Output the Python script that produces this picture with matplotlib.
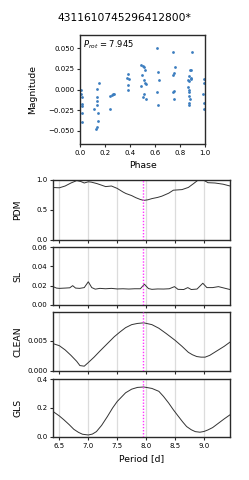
import matplotlib
matplotlib.use("Agg")
import matplotlib.pyplot as plt
import numpy as np

title = "4311610745296412800*"
p_rot = 7.945

phase = [0.005, 0.010, 0.012, 0.015, 0.013, 0.016, 0.018,
         0.112, 0.128, 0.139, 0.144, 0.144, 0.139, 0.133, 0.136, 0.149, 0.135,
         0.240, 0.243, 0.256, 0.264, 0.272,
         0.387, 0.379, 0.392, 0.387, 0.381,
         0.491, 0.501, 0.512, 0.520, 0.499, 0.509, 0.517, 0.525, 0.488, 0.512, 0.504, 0.531,
         0.619, 0.627, 0.629, 0.619, 0.627,
         0.741, 0.760, 0.749, 0.744, 0.752, 0.747, 0.752,
         0.899, 0.877, 0.885, 0.869, 0.864, 0.875, 0.885, 0.891, 0.861, 0.869, 0.875, 0.869, 0.880, 0.875, 0.872,
         0.992, 0.990, 0.987, 0.995, 0.992]
mag = [0.000, -0.005, -0.009, -0.017, -0.020, -0.028, -0.039,
       -0.0236, -0.048, -0.0455, -0.0386, -0.0285, -0.0142, -0.0089, 0.0008, 0.0077, -0.019,
       -0.0236, -0.0073, -0.0065, -0.0060, -0.0057,
       0.0190, 0.0134, 0.0122, 0.0057, 0.0000,
       0.0293, 0.0285, 0.0272, 0.0232, 0.0179, 0.0114, 0.0073, 0.0061, 0.0040, -0.0053, -0.0093, -0.0114,
       0.0504, 0.0215, 0.0110, -0.0029, -0.0187,
       0.0460, 0.0268, 0.0195, 0.0179, -0.0012, -0.0024, -0.0114,
       0.0460, 0.0232, 0.0236, 0.0163, 0.0114, 0.0102, 0.0122, 0.0134, 0.0033, -0.0008, -0.0029, -0.0081, -0.0110, -0.0163, -0.0183,
       0.0122, 0.0073, -0.0049, -0.0159, -0.0232]

pdm_period = [6.39, 6.5, 6.6, 6.7, 6.8, 6.87, 6.93, 7.0, 7.05, 7.15, 7.3, 7.4, 7.5, 7.6, 7.65,
              7.75, 7.82, 7.9, 7.96, 8.03, 8.1, 8.2, 8.27, 8.39, 8.47, 8.62, 8.73, 8.82,
              8.9, 8.99, 9.07, 9.19, 9.33, 9.45]
pdm_value = [0.875, 0.87, 0.90, 0.95, 0.99, 0.975, 0.95, 0.97, 0.965, 0.94, 0.89, 0.90, 0.86,
             0.80, 0.775, 0.74, 0.706, 0.675, 0.66, 0.67, 0.69, 0.71, 0.73, 0.78, 0.83, 0.84,
             0.876, 0.94, 1.0, 1.0, 0.955, 0.95, 0.93, 0.90]

sl_period = [6.39, 6.45, 6.5, 6.6, 6.68, 6.73, 6.78, 6.85, 6.93, 7.0, 7.06, 7.12, 7.2, 7.3, 7.4,
             7.5, 7.6, 7.7, 7.8, 7.9, 7.97, 8.04, 8.1, 8.2, 8.3, 8.4, 8.49, 8.55, 8.65, 8.72,
             8.78, 8.88, 8.98, 9.05, 9.15, 9.25, 9.35, 9.45]
sl_value = [0.019, 0.0175, 0.0172, 0.0175, 0.0178, 0.020, 0.0175, 0.0172, 0.018, 0.024, 0.018,
            0.0164, 0.0172, 0.0168, 0.0172, 0.0166, 0.0168, 0.0165, 0.0168, 0.0168, 0.0215, 0.017,
            0.0162, 0.0166, 0.0165, 0.0168, 0.019, 0.0162, 0.016, 0.018, 0.016, 0.0165, 0.0225,
            0.018, 0.018, 0.019, 0.0175, 0.016]

clean_period = [6.39, 6.5, 6.6, 6.7, 6.8, 6.855, 6.93, 7.0, 7.1, 7.2, 7.33, 7.45, 7.55, 7.645,
                7.75, 7.85, 7.96, 8.1, 8.22, 8.35, 8.5, 8.62, 8.73, 8.8, 8.875, 8.95, 9.02,
                9.1, 9.25, 9.35, 9.45]
clean_value = [0.00455, 0.0042, 0.0035, 0.0026, 0.0016, 0.0009, 0.0008, 0.0014, 0.0023, 0.0033,
               0.00455, 0.0057, 0.0065, 0.0072, 0.0077, 0.0079, 0.0080, 0.0077, 0.0071, 0.0062,
               0.0051, 0.0041, 0.0031, 0.0027, 0.0024, 0.0023, 0.0023, 0.0026, 0.0035, 0.0041,
               0.0048]

gls_period = [6.39, 6.5, 6.58, 6.67, 6.75, 6.83, 6.9, 7.0, 7.07, 7.14, 7.23, 7.33, 7.42, 7.5,
              7.645, 7.75, 7.85, 7.96, 8.1, 8.22, 8.3, 8.39, 8.47, 8.56, 8.63, 8.7, 8.78, 8.85,
              8.93, 9.0, 9.07, 9.15, 9.25, 9.35, 9.45]
gls_value = [0.176, 0.145, 0.118, 0.085, 0.053, 0.032, 0.019, 0.014, 0.020, 0.037, 0.080, 0.141,
             0.200, 0.245, 0.305, 0.330, 0.342, 0.345, 0.335, 0.315, 0.280, 0.234, 0.188, 0.141,
             0.105, 0.072, 0.050, 0.037, 0.033, 0.038, 0.049, 0.065, 0.095, 0.125, 0.153]

period_ticks = [6.5, 7.0, 7.5, 8.0, 8.5, 9.0]
xlim = (6.39, 9.45)

fig = plt.figure(figsize=(2.49, 4.8), dpi=100)
tick_fs = 5
label_fs = 6.7
spine_c = "#2a2a2a"

def style(ax):
    for s in ax.spines.values():
        s.set_color(spine_c)
        s.set_linewidth(1.0)
    ax.tick_params(labelsize=tick_fs, length=2.5, width=0.8, color=spine_c, pad=1.5)

# Top phase plot
ax0 = fig.add_axes([0.3213, 0.70, 0.502, 0.227])
ax0.scatter(phase, mag, s=4, color="#3b7dbf", linewidths=0)
ax0.set_xlim(0, 1)
ax0.set_ylim(-0.066, 0.066)
ax0.set_xticks([0, 0.2, 0.4, 0.6, 0.8, 1.0])
ax0.set_yticks([-0.05, -0.025, 0, 0.025, 0.05])
ax0.set_yticklabels(["\u22120.050", "\u22120.025", "0.000", "0.025", "0.050"])
ax0.set_xlabel("Phase", fontsize=label_fs, labelpad=4)
ax0.set_ylabel("Magnitude", fontsize=label_fs)
ax0.yaxis.set_label_coords(-0.34, 0.5)
ax0.text(0.02, 0.97, r"$P_{rot}$ = 7.945", transform=ax0.transAxes, fontsize=6,
         va="top", ha="left")
style(ax0)
fig.suptitle(title, fontsize=7.7, y=0.972)

left, width = 0.2129, 0.7108
boxes = [(0.50, 0.125), (0.3646, 0.1208), (0.2271, 0.1229), (0.0896, 0.1208)]
names = ["PDM", "SL", "CLEAN", "GLS"]
data = [(pdm_period, pdm_value), (sl_period, sl_value), (clean_period, clean_value),
        (gls_period, gls_value)]
ylims = [(0, 1.0), (0, 0.06), (0, 0.0098), (0, 0.4)]
yticks = [[0, 0.5, 1.0], [0, 0.02, 0.04, 0.06], [0, 0.005], [0, 0.2, 0.4]]
yfmt = ["{:.1f}", "{:.2f}", "{:.3f}", "{:.1f}"]

axes = []
for i, (b, h) in enumerate(boxes):
    ax = fig.add_axes([left, b, width, h])
    for t in period_ticks:
        ax.axvline(t, color="#dcdcdc", lw=0.9, zorder=0)
    px, py = data[i]
    ax.plot(px, py, color="#333333", lw=0.7, zorder=2)
    ax.axvline(p_rot, color="#ff33ff", lw=1.0, ls=(0, (1, 1.2)), zorder=3)
    ax.set_xlim(*xlim)
    ax.set_ylim(*ylims[i])
    ax.set_xticks(period_ticks)
    ax.set_yticks(yticks[i])
    ax.set_yticklabels([yfmt[i].format(v) for v in yticks[i]])
    ax.set_ylabel(names[i], fontsize=label_fs)
    ax.yaxis.set_label_coords(-0.175, 0.5)
    if i < 3:
        ax.set_xticklabels([])
    else:
        ax.set_xticklabels(["6.5", "7.0", "7.5", "8.0", "8.5", "9.0"])
        ax.set_xlabel("Period [d]", fontsize=label_fs, labelpad=4)
    style(ax)
    axes.append(ax)

fig.savefig("out.png", dpi=100)
